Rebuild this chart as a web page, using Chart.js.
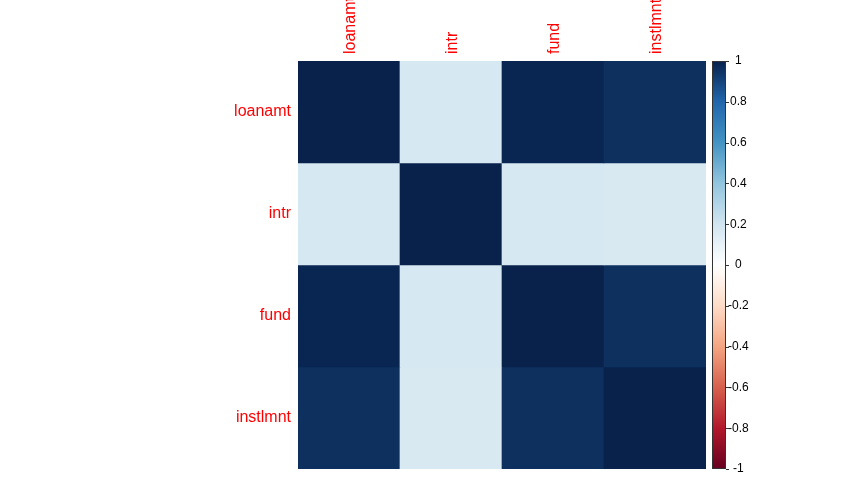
<!DOCTYPE html>
<html>
<head>
<meta charset="utf-8">
<script src="https://cdn.jsdelivr.net/npm/chart.js@4"></script>
<style>
  html, body { margin: 0; padding: 0; background: #fff; }
  #wrap { width: 867px; height: 491px; }
</style>
</head>
<body>
<div id="wrap"><canvas id="corrplot"></canvas></div>
<script>
const variaveis = ['loanamt', 'intr', 'fund', 'instlmnt'];
const corLoanamt = [1.00, 0.18, 0.99, 0.96];
const corIntr = [0.18, 1.00, 0.18, 0.17];
const corFund = [0.99, 0.18, 1.00, 0.96];
const corInstlmnt = [0.96, 0.17, 0.96, 1.00];
const legendaTicks = [-1, -0.8, -0.6, -0.4, -0.2, 0, 0.2, 0.4, 0.6, 0.8, 1];

const matriz = [corLoanamt, corIntr, corFund, corInstlmnt];

// paleta RdBu (corrplot), de -1 a 1
const paleta = ['#67001F', '#B2182B', '#D6604D', '#F4A582', '#FDDBC7', '#FFFFFF',
                '#D1E5F0', '#92C5DE', '#4393C3', '#2166AC', '#08224C'];

const hexRgb = h => [1, 3, 5].map(i => parseInt(h.slice(i, i + 2), 16));

function corPara(v) {
  const pos = (v + 1) / 2 * (paleta.length - 1);
  const i = Math.min(Math.floor(pos), paleta.length - 2);
  const t = pos - i;
  const a = hexRgb(paleta[i]), b = hexRgb(paleta[i + 1]);
  const c = a.map((x, k) => Math.round(x + (b[k] - x) * t));
  return `rgb(${c[0]}, ${c[1]}, ${c[2]})`;
}

const fonte = 'Liberation Sans, Arial, sans-serif';

const barraCores = {
  id: 'barraCores',
  afterDraw(chart) {
    const esc = chart.scales.yc;
    const ctx = chart.ctx;
    const x0 = esc.left + 6, larg = 14;
    const yTopo = esc.getPixelForValue(1), yBase = esc.getPixelForValue(-1);
    const grad = ctx.createLinearGradient(0, yBase, 0, yTopo);
    paleta.forEach((c, i) => grad.addColorStop(i / (paleta.length - 1), c));
    ctx.save();
    ctx.fillStyle = grad;
    ctx.fillRect(x0, yTopo, larg, yBase - yTopo);
    ctx.strokeStyle = '#333';
    ctx.lineWidth = 1;
    ctx.strokeRect(x0 + 0.5, yTopo + 0.5, larg - 1, yBase - yTopo - 1);
    ctx.beginPath();
    legendaTicks.forEach(v => {
      const y = Math.round(esc.getPixelForValue(v)) + 0.5;
      ctx.moveTo(x0 + larg, y);
      ctx.lineTo(x0 + larg + 3, y);
    });
    ctx.stroke();
    ctx.restore();
  }
};

const datasets = matriz.map((linha, r) => ({
  label: variaveis[r],
  data: linha.map(() => [r, r + 1]),
  backgroundColor: linha.map(corPara),
  borderWidth: 0,
  grouped: false,
  categoryPercentage: 1,
  barPercentage: 1,
  yAxisID: 'y'
}));

new Chart(document.getElementById('corrplot'), {
  type: 'bar',
  data: { labels: variaveis, datasets },
  plugins: [barraCores],
  options: {
    responsive: true,
    maintainAspectRatio: false,
    animation: false,
    layout: { padding: { top: 0, right: 101, bottom: 22, left: 0 } },
    plugins: {
      legend: { display: false },
      tooltip: { enabled: false }
    },
    scales: {
      x: {
        position: 'top',
        grid: { display: false, drawTicks: false },
        border: { display: false },
        ticks: {
          color: '#FF0000',
          font: { family: fonte, size: 16 },
          minRotation: 90,
          maxRotation: 90,
          padding: 7,
          labelOffset: 21,
          autoSkip: false
        },
        afterFit: s => { s.height = 61; }
      },
      y: {
        type: 'linear',
        position: 'left',
        reverse: true,
        min: 0,
        max: 4,
        grid: { display: false, drawTicks: false },
        border: { display: false },
        afterBuildTicks: s => { s.ticks = variaveis.map((_, i) => ({ value: i + 0.5 })); },
        ticks: {
          color: '#FF0000',
          font: { family: fonte, size: 16 },
          padding: 7,
          callback: v => variaveis[Math.floor(v)]
        },
        afterFit: s => { s.width = 298; s.paddingTop = 0; s.paddingBottom = 0; }
      },
      yc: {
        type: 'linear',
        position: 'right',
        min: -1,
        max: 1,
        grid: { display: false, drawTicks: false },
        border: { display: false },
        afterBuildTicks: s => { s.ticks = legendaTicks.map(v => ({ value: v })); },
        ticks: {
          color: '#000',
          font: { family: fonte, size: 12 },
          padding: 22,
          crossAlign: 'center',
          callback: v => String(+v.toFixed(1))
        },
        afterFit: s => { s.width = 60; s.paddingTop = 0; s.paddingBottom = 0; }
      }
    }
  }
});
</script>
</body>
</html>
